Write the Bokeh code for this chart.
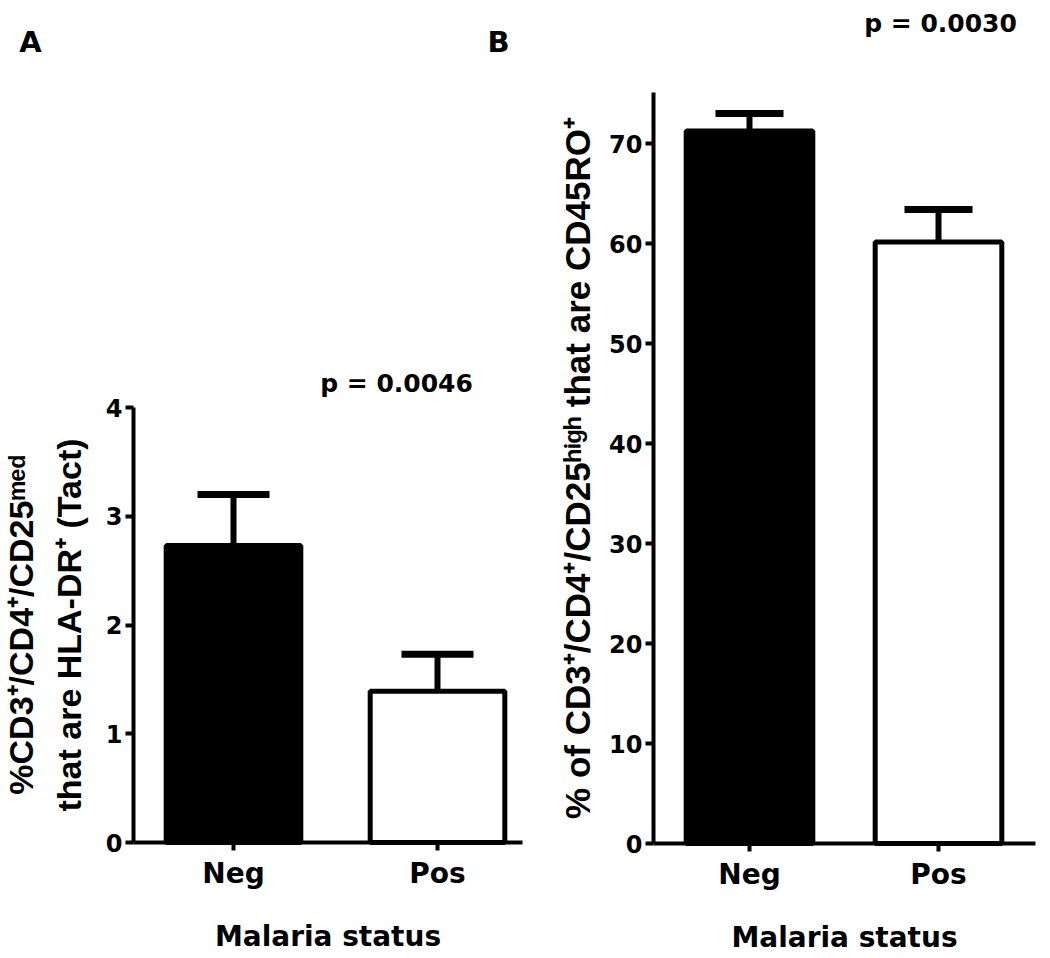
from bokeh.plotting import figure
from bokeh.layouts import row
from bokeh.models import ColumnDataSource, Range1d, FixedTicker, Whisker, TeeHead
from bokeh.core.properties import value
from bokeh.embed import file_html
from bokeh.resources import INLINE

# ---- data ----
categories = ["Neg", "Pos"]
cat_pos = [1, 2]
a_mean = [2.73, 1.39]
a_sem = [0.47, 0.34]
b_mean = [71.25, 60.15]
b_sem = [1.75, 3.25]
a_ticks = [0, 1, 2, 3, 4]
b_ticks = [0, 10, 20, 30, 40, 50, 60, 70]
a_p = "p = 0.0046"
b_p = "p = 0.0030"
x_title = "Malaria status"
a_ylabel = "%CD3\u207a/CD4\u207a/CD25\u1d50\u1d49\u1d48\nthat are HLA-DR\u207a (Tact)"
b_ylabel = "% of CD3\u207a/CD4\u207a/CD25\u02b0\u2071\u1d4d\u02b0 that are CD45RO\u207a"

# ---- styles ----
bar_colors = ["black", "white"]
TICK_FONT = "DejaVu Sans"
LABEL_FONT = "Liberation Sans"
H = 955


def style(p, yticks, ylabel, ylabel_size, ylabel_standoff, xbounds, ybounds):
    p.xgrid.grid_line_color = None
    p.ygrid.grid_line_color = None
    p.outline_line_color = None
    for ax in (p.xaxis[0], p.yaxis[0]):
        ax.axis_line_width = 4
        ax.axis_line_color = "black"
        ax.major_tick_line_width = 4
        ax.major_tick_line_color = "black"
        ax.major_tick_out = 8
        ax.major_tick_in = 0
        ax.minor_tick_line_color = None
        ax.major_label_text_font = TICK_FONT
        ax.major_label_text_font_style = "bold"
        ax.major_label_text_color = "black"
        ax.axis_label_text_color = "black"
    p.xaxis.ticker = FixedTicker(ticks=cat_pos)
    p.xaxis.bounds = xbounds
    p.xaxis.fixed_location = 0
    p.xaxis.major_label_overrides = {c: n for c, n in zip(cat_pos, categories)}
    p.xaxis.major_label_text_font_size = "28px"
    p.xaxis.major_label_standoff = 6
    p.xaxis.axis_label = x_title
    p.xaxis.axis_label_text_font = TICK_FONT
    p.xaxis.axis_label_text_font_style = "bold"
    p.xaxis.axis_label_text_font_size = "28px"
    p.xaxis.axis_label_standoff = 27
    p.yaxis.ticker = FixedTicker(ticks=yticks)
    p.yaxis.bounds = ybounds
    p.yaxis.fixed_location = xbounds[0]
    p.yaxis.major_label_text_font_size = "24px"
    p.yaxis.major_label_standoff = 3
    p.yaxis.axis_label = ylabel
    p.yaxis.axis_label_text_font = LABEL_FONT
    p.yaxis.axis_label_text_font_style = "bold"
    p.yaxis.axis_label_text_font_size = ylabel_size
    p.yaxis.axis_label_text_line_height = 1.25
    p.yaxis.axis_label_standoff = ylabel_standoff


def add_text(p, xs, ys, texts, size):
    p.text(x=xs, y=ys, text=texts, text_font=value(TICK_FONT),
           text_font_style="bold", text_font_size=size, text_align="center",
           text_baseline="middle", text_color="black")


def panel(means, sems, yticks, ylabel, ylabel_size, ylabel_standoff,
          x_range, y_range, xbounds, ybounds, width, bar_w, cap):
    p = figure(width=width, height=H, x_range=x_range, y_range=y_range,
               toolbar_location=None, output_backend="svg",
               min_border_left=0, min_border_right=0,
               min_border_top=0, min_border_bottom=0)
    src = ColumnDataSource(dict(
        x=cat_pos, top=means,
        upper=[m + s for m, s in zip(means, sems)],
        color=bar_colors))
    p.vbar(x="x", top="top", width=bar_w, source=src, fill_color="color",
           line_color="black", line_width=5)
    w = Whisker(base="x", lower="top", upper="upper", source=src,
                dimension="height", line_width=6, line_color="black",
                upper_head=TeeHead(size=cap, line_width=7, line_color="black"),
                lower_head=None, level="annotation")
    p.add_layout(w)
    style(p, yticks, ylabel, ylabel_size, ylabel_standoff, xbounds, ybounds)
    return p


# panel A (page px): Neg at x=233, Pos at x=437 (204 px/unit); y=0 at 842, 108.75 px/unit
WA = 528
ax0 = 1 - 233 / 204
ay = 108.75
pa = panel(a_mean, a_sem, a_ticks, a_ylabel, "34px", 15,
           Range1d(ax0, ax0 + WA / 204), Range1d(-(H - 842) / ay, 842 / ay),
           (1 - 100 / 204, 2 + 85 / 204), (0, 4), WA, 0.66, 72)
add_text(pa, [1 + (30 - 233) / 204, 1 + (498 - 233) / 204],
         [(842 - 41) / ay, (842 - 41) / ay], ["A", "B"], "29px")
add_text(pa, [1 + (396 - 233) / 204], [(842 - 383) / ay], [a_p], "25px")

# panel B (page px, figure starts at 528): Neg at 749, Pos at 938 (189 px/unit); y=0 at 843, 10 px/unit
WB = 522
bx0 = 1 - (749 - WA) / 189
by = 10.0
pb = panel(b_mean, b_sem, b_ticks, b_ylabel, "35px", 9,
           Range1d(bx0, bx0 + WB / 189), Range1d(-(H - 843) / by, 843 / by),
           (1 - 96 / 189, 2 + 97 / 189), (0, 75.1), WB, 0.67, 68)
add_text(pb, [1 + (940 - 749) / 189], [(843 - 23) / by], [b_p], "25px")

layout = row(pa, pb)
open("out.html", "w").write(file_html(layout, INLINE))
